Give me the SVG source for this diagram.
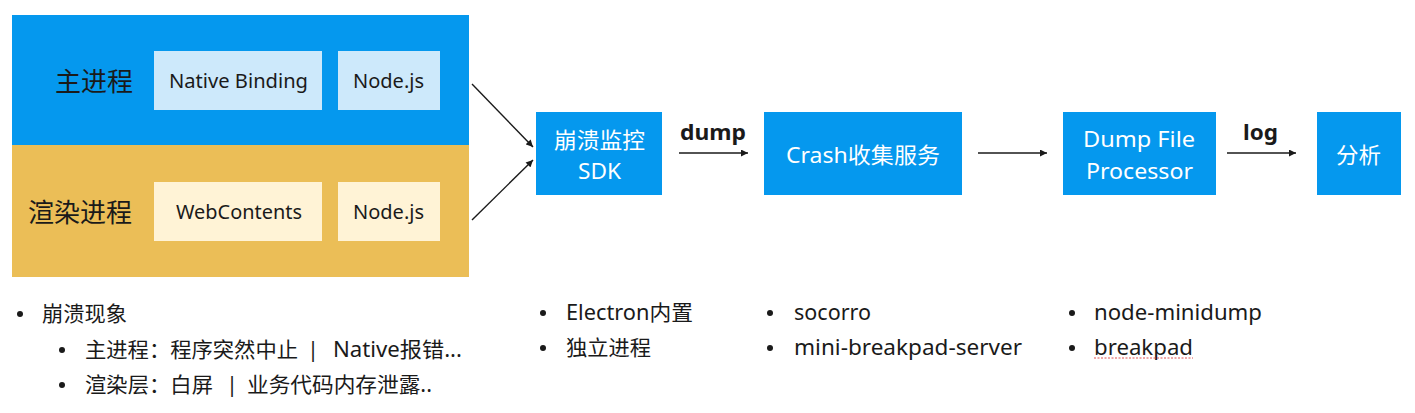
<svg xmlns="http://www.w3.org/2000/svg" width="1415" height="413" viewBox="0 0 1415 413">
<style>
.t{font-family:"Noto Sans","Noto Sans CJK SC",sans-serif;fill:#1a1a1a;dominant-baseline:central}
.w{font-family:"Noto Sans","Noto Sans CJK SC",sans-serif;fill:#ffffff;font-size:22px;text-anchor:middle;dominant-baseline:central}
.b{fill:#0598ee}
.c{stroke:#1a1a1a;stroke-width:1.4;fill:none;marker-end:url(#ah)}
.in{font-size:19px;text-anchor:middle}
.li{font-size:21px}
.dot{fill:#1a1a1a}
</style>
<defs>
<marker id="ah" viewBox="0 0 10 10" refX="10" refY="5" markerWidth="8" markerHeight="7" markerUnits="userSpaceOnUse" orient="auto">
<path d="M0,0 L10,5 L0,10 z" fill="#1a1a1a"/>
</marker>
</defs>
<rect width="1415" height="413" fill="#ffffff"/>

<g id="main-process">
<rect x="12" y="15" width="457" height="130" fill="#0598ee"/>
<text class="t" x="94" y="81" font-size="26" text-anchor="middle" textLength="78" lengthAdjust="spacingAndGlyphs">主进程</text>
</g>
<g id="render-process">
<rect x="12" y="145" width="457" height="132" fill="#ebbe57"/>
<text class="t" x="80" y="212" font-size="26" text-anchor="middle" textLength="104" lengthAdjust="spacingAndGlyphs">渲染进程</text>
</g>
<g id="native-binding">
<rect x="154" y="51" width="168" height="59" fill="#cde9fb"/>
<text class="t in" x="238.5" y="81" textLength="139" lengthAdjust="spacingAndGlyphs">Native Binding</text>
</g>
<g id="nodejs-main">
<rect x="338" y="51" width="102" height="59" fill="#cde9fb"/>
<text class="t in" x="388.5" y="81" textLength="71" lengthAdjust="spacingAndGlyphs">Node.js</text>
</g>
<g id="webcontents">
<rect x="154" y="182" width="168" height="59" fill="#fff3d6"/>
<text class="t in" x="239" y="212" textLength="126" lengthAdjust="spacingAndGlyphs">WebContents</text>
</g>
<g id="nodejs-render">
<rect x="338" y="182" width="102" height="59" fill="#fff3d6"/>
<text class="t in" x="388.5" y="212" textLength="71" lengthAdjust="spacingAndGlyphs">Node.js</text>
</g>

<g id="sdk">
<rect class="b" x="536" y="112" width="126" height="83"/>
<text class="w" x="599.5" y="139" textLength="91" lengthAdjust="spacingAndGlyphs">崩溃监控</text>
<text class="w" x="599.5" y="170" textLength="43" lengthAdjust="spacingAndGlyphs">SDK</text>
</g>
<g id="crash-service">
<rect class="b" x="764" y="112" width="198" height="83"/>
<text class="w" x="863" y="154" textLength="154" lengthAdjust="spacingAndGlyphs">Crash收集服务</text>
</g>
<g id="dump-processor">
<rect class="b" x="1063" y="112" width="153" height="83"/>
<text class="w" x="1139" y="138" textLength="112" lengthAdjust="spacingAndGlyphs">Dump File</text>
<text class="w" x="1139.5" y="170" textLength="107" lengthAdjust="spacingAndGlyphs">Processor</text>
</g>
<g id="analysis">
<rect class="b" x="1317" y="112" width="84" height="83"/>
<text class="w" x="1358.5" y="154" textLength="45" lengthAdjust="spacingAndGlyphs">分析</text>
</g>

<g id="connectors">
<line class="c" x1="472" y1="84" x2="533" y2="147"/>
<line class="c" x1="472" y1="220" x2="533" y2="160"/>
<line class="c" x1="679" y1="153" x2="748" y2="153"/>
<line class="c" x1="978" y1="153" x2="1047" y2="153"/>
<line class="c" x1="1227" y1="153" x2="1296" y2="153"/>
<text class="t" x="713" y="131" font-size="22" font-weight="bold" text-anchor="middle" textLength="66" lengthAdjust="spacingAndGlyphs">dump</text>
<text class="t" x="1260.5" y="131" font-size="22" font-weight="bold" text-anchor="middle" textLength="35" lengthAdjust="spacingAndGlyphs">log</text>
</g>

<g id="notes-left" class="t li">
<circle class="dot" cx="20" cy="314" r="3"/>
<text x="42" y="313" textLength="85" lengthAdjust="spacingAndGlyphs">崩溃现象</text>
<circle class="dot" cx="62" cy="350" r="3"/>
<text x="85" y="349" textLength="213" lengthAdjust="spacingAndGlyphs">主进程：程序突然中止</text>
<text x="313" y="349" text-anchor="middle">|</text>
<text x="333" y="349" textLength="129" lengthAdjust="spacingAndGlyphs">Native报错...</text>
<circle class="dot" cx="62" cy="385" r="3"/>
<text x="85" y="384" textLength="128" lengthAdjust="spacingAndGlyphs">渲染层：白屏</text>
<text x="232" y="384" text-anchor="middle">|</text>
<text x="247" y="384" textLength="185" lengthAdjust="spacingAndGlyphs">业务代码内存泄露..</text>
</g>
<g id="notes-sdk" class="t li">
<circle class="dot" cx="543" cy="313" r="3"/>
<text x="566" y="312" textLength="127" lengthAdjust="spacingAndGlyphs">Electron内置</text>
<circle class="dot" cx="543" cy="348" r="3"/>
<text x="566" y="347" textLength="85" lengthAdjust="spacingAndGlyphs">独立进程</text>
</g>
<g id="notes-crash" class="t li">
<circle class="dot" cx="770" cy="313" r="3"/>
<text x="794" y="312" textLength="77" lengthAdjust="spacingAndGlyphs">socorro</text>
<circle class="dot" cx="770" cy="348" r="3"/>
<text x="794" y="347" textLength="228" lengthAdjust="spacingAndGlyphs">mini-breakpad-server</text>
</g>
<g id="notes-dump" class="t li">
<circle class="dot" cx="1072" cy="313" r="3"/>
<text x="1094" y="312" textLength="168" lengthAdjust="spacingAndGlyphs">node-minidump</text>
<circle class="dot" cx="1072" cy="348" r="3"/>
<text x="1094" y="347" textLength="99" lengthAdjust="spacingAndGlyphs">breakpad</text>
<line x1="1094" y1="358" x2="1193" y2="358" stroke="#e05050" stroke-width="1" stroke-dasharray="2,1.5"/>
</g>
</svg>
